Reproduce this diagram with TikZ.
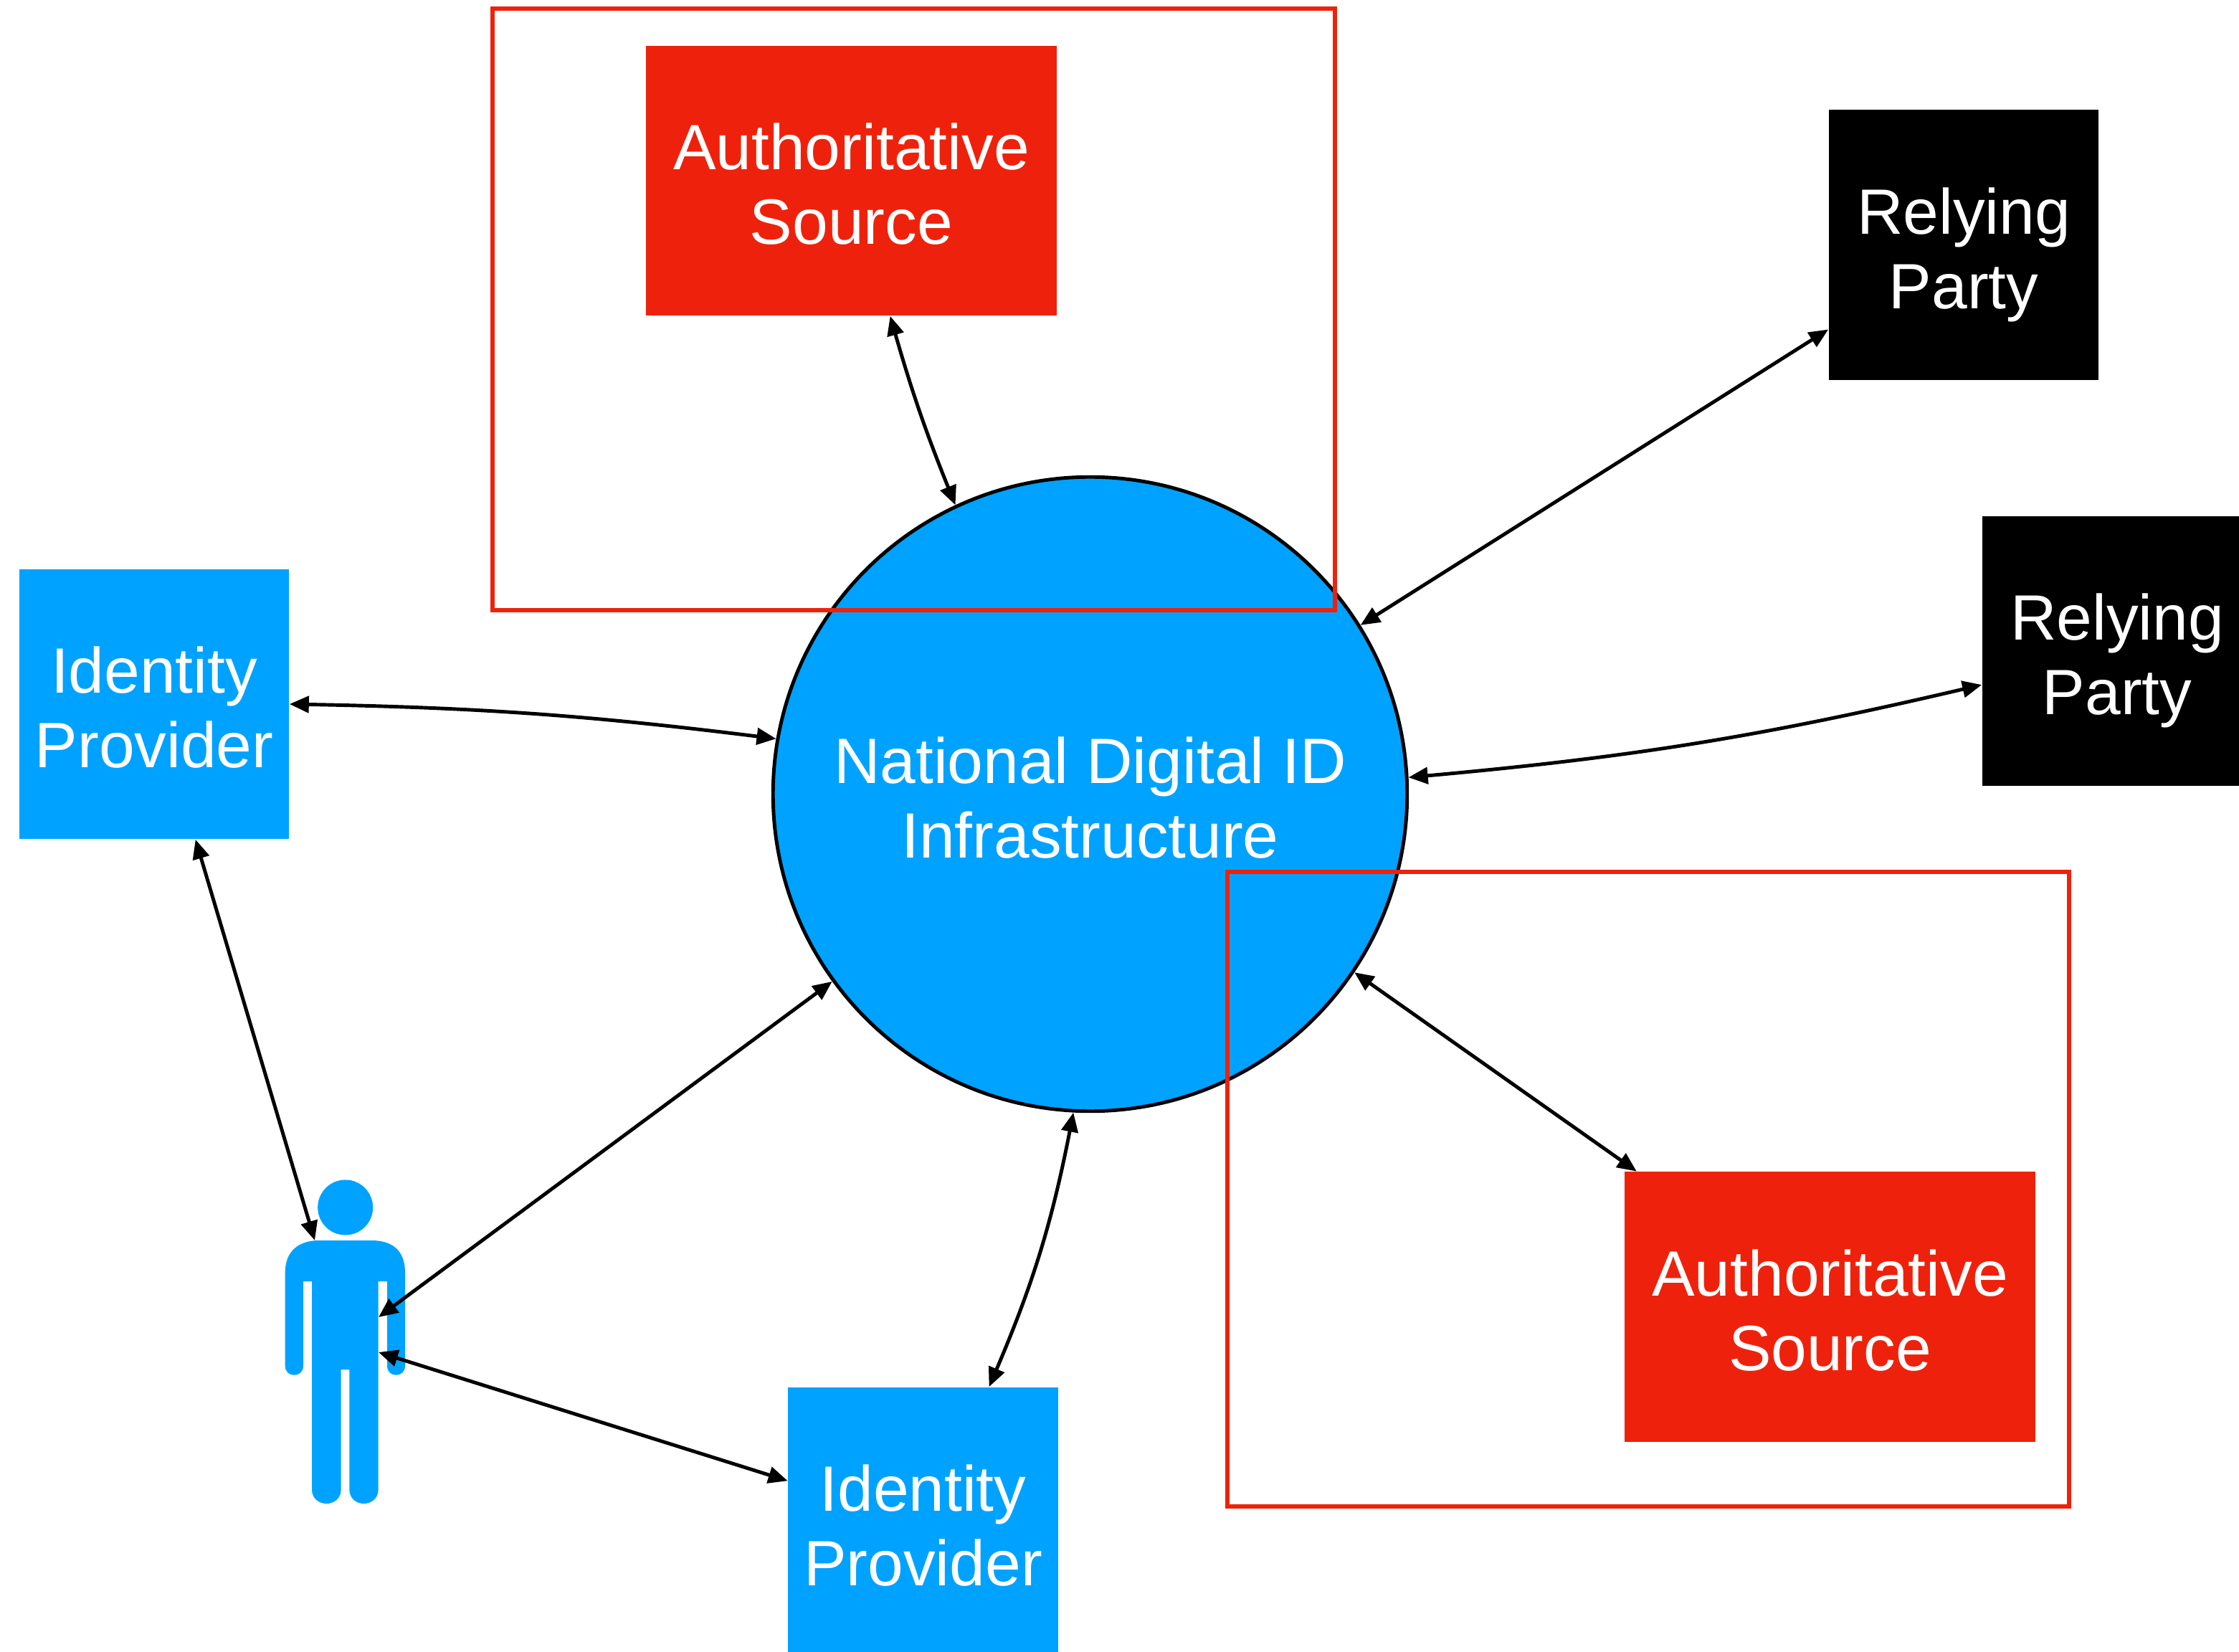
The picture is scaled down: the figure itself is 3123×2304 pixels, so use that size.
\documentclass[tikz,border=0pt]{standalone}
\usepackage{fontspec}
\setmainfont{Liberation Sans}
\usetikzlibrary{arrows.meta}
\definecolor{idblue}{HTML}{00A2FF}
\definecolor{srcred}{HTML}{EE220C}
\newcommand{\twolines}[2]{\rule{0pt}{21pt}\smash{#1}\\\smash{#2}}
\tikzset{
	box/.style = {rectangle, inner sep = 0pt, text = white, align = center, font = \fontsize{25.4}{29.6}\selectfont},
	provider/.style = {box, fill = idblue, minimum width = 3.76cm, minimum height = 3.76cm},
	source/.style = {box, fill = srcred, minimum width = 5.73cm, minimum height = 3.76cm},
	party/.style = {box, fill = black, minimum width = 3.76cm, minimum height = 3.76cm},
	link/.style = {black, line width = 1.4pt, {Triangle[length = 0.27cm, width = 0.23cm]}-{Triangle[length = 0.27cm, width = 0.23cm]}},
	frame/.style = {srcred, line width = 1.5pt}
}

\begin{document}
\begin{tikzpicture}[x = 0.01cm, y = -0.01cm]
	\useasboundingbox (0, 0) rectangle (3123, 2304);
	\node (infra) at (1520.5, 1107.5) [box, circle, draw = black, line width = 1.4pt, fill = idblue, minimum size = 8.84cm] {\twolines{National Digital ID}{Infrastructure}};
	\node (sourcea) at (1187.5, 252) [source] {\twolines{Authoritative}{Source}};
	\node (sourceb) at (2552.5, 1822.5) [source] {\twolines{Authoritative}{Source}};
	\node (partya) at (2739, 341.5) [party] {\twolines{Relying}{Party}};
	\node (partyb) at (2953, 908) [party] {\twolines{Relying}{Party}};
	\node (providera) at (215, 982) [provider] {\twolines{Identity}{Provider}};
	\node (providerb) at (1287.5, 2123) [provider] {\twolines{Identity}{Provider}};

	\fill [idblue] (481.7, 1684) circle (0.385cm);
	\fill [idblue] (397.7, 1775) .. controls (397.7, 1742) and (420, 1730) .. (445, 1730) -- (518, 1730) .. controls (545, 1730) and (565, 1742) .. (565, 1775) -- (565, 1905) .. controls (565, 1922) and (540, 1922) .. (540, 1905) -- (540, 1787) -- (527.7, 1787) -- (527.7, 2077) .. controls (527.7, 2103.7) and (487.3, 2103.7) .. (487.3, 2077) -- (487.3, 1910) -- (475.7, 1910) -- (475.7, 2077) .. controls (475.7, 2103.7) and (435, 2103.7) .. (435, 2077) -- (435, 1787) -- (423, 1787) -- (423, 1905) .. controls (423, 1922) and (397.7, 1922) .. (397.7, 1905) -- cycle;
	\coordinate (shoulder) at (439, 1730);
	\coordinate (chest) at (528, 1837);
	\coordinate (hip) at (528, 1886);

	\draw [frame] (687, 12) rectangle (1862, 851);
	\draw [frame] (1712, 1216) rectangle (2886, 2101);

	\draw [link] (sourcea.-74.4) to [bend right = 3] (infra.115.2);
	\draw [link] (partya.212.2) -- (infra.32);
	\draw [link] (partyb.194.4) to [bend left = 4] (infra.3.35);
	\draw [link] (sourceb.145.2) -- (infra.-34.7);
	\draw [link] (providerb.64.3) to [bend right = 6] (infra.267.2);
	\draw [link] (providerb.163.7) -- (hip);
	\draw [link] (infra.216.5) -- (chest);
	\draw [link] (providera.-73.3) -- (shoulder);
	\draw [link] (providera.-0.6) to [bend left = 3] (infra.170.7);
\end{tikzpicture}
\end{document}
